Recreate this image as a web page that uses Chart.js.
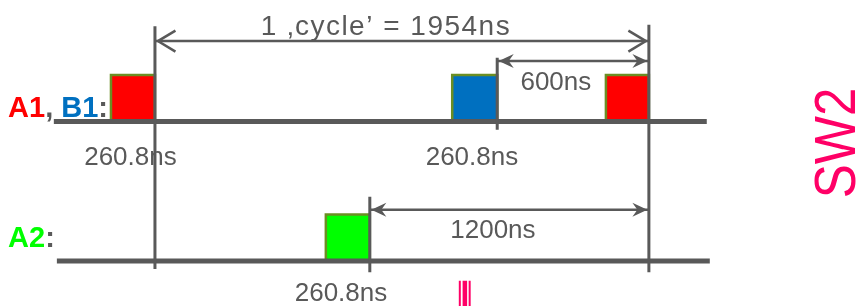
<!DOCTYPE html>
<html>
<head>
<meta charset="utf-8">
<script src="https://cdn.jsdelivr.net/npm/chart.js@4/dist/chart.umd.min.js"></script>
<style>
  html, body { margin: 0; padding: 0; background: #fff; }
  #wrap { width: 864px; height: 306px; }
</style>
</head>
<body>
<div id="wrap"><canvas id="timing" width="864" height="306"></canvas></div>
<script>
// x = time in ns (the original sketch is not to scale), y = signal level
// A2 lane sits at level 0, the A1/B1 lane at level 3, a pulse is 1 high
const laneLevels = [3, 0];
const laneStart = [-400, -388];
const laneEnd = [2183, 2195];

const pulseNames = ['A1', 'B1', 'A1', 'A2'];
const pulseStart = [-174, 1176, 1784, 676];
const pulseEnd = [0, 1354, 1954, 850];
const pulseLane = [3, 3, 3, 0];
const pulseHigh = 1;

const markerTimes = [0, 1354, 1954, 850];
const markerTop = [5.05, 4.37, 5.08, 1.38];
const markerBottom = [-0.17, 2.82, -0.24, -0.24];

const spanFrom = [0, 1354, 850];
const spanTo = [1954, 1954, 1954];
const spanLevel = [4.73, 4.30, 1.10];
const spanLabels = ['1 \u201Acycle\u2019 = 1954ns', '600ns', '1200ns'];
const spanLabelTime = [914, 1586, 1337];
const spanLabelLevel = [4.86, 3.68, 0.495];

const widthLabels = ['260.8ns', '260.8ns', '260.8ns'];
const widthLabelTime = [-97, 1254, 736];
const widthLabelLevel = [2.065, 2.065, -0.86];

const laneLabelTime = [-581, -581];
const laneLabelLevel = [3.10, 0.30];

const sideLabel = 'SW2';
const sideLabelTime = 2706;
const sideLabelLevel = 2.54;

const tickMarkTimes = [1206, 1226, 1245];
const tickMarkTop = -0.424;
const tickMarkBottom = -1;

const GRAY = '#595959';
const PINK = '#FF0066';
const OLIVE = '#6B8E23';
const signalColors = { A1: '#FF0000', B1: '#0070C0', A2: '#00FF00' };
const FONT = '"Liberation Sans", Arial, sans-serif';

const datasets = [];

// baselines
laneLevels.forEach((lv, i) => {
    datasets.push({
        data: [{ x: laneStart[i], y: lv }, { x: laneEnd[i], y: lv }],
        borderColor: GRAY, borderWidth: 5, order: 2
    });
});

// pulses
pulseNames.forEach((name, i) => {
    const b = pulseLane[i], h = b + pulseHigh;
    datasets.push({
        data: [
            { x: pulseStart[i], y: b }, { x: pulseStart[i], y: h },
            { x: pulseEnd[i], y: h }, { x: pulseEnd[i], y: b }
        ],
        borderColor: OLIVE, borderWidth: 2.5,
        backgroundColor: signalColors[name],
        fill: { value: b }, order: 3
    });
});

// edge markers
markerTimes.forEach((t, i) => {
    datasets.push({
        data: [{ x: t, y: markerTop[i] }, { x: t, y: markerBottom[i] }],
        borderColor: GRAY, borderWidth: 3, order: 1
    });
});

// arrow shafts
spanFrom.forEach((t, i) => {
    datasets.push({
        data: [{ x: t, y: spanLevel[i] }, { x: spanTo[i], y: spanLevel[i] }],
        borderColor: GRAY, borderWidth: 2.5, order: 1
    });
});

// small pink marks at the bottom
tickMarkTimes.forEach((t, i) => {
    datasets.push({
        data: [{ x: t, y: tickMarkTop }, { x: t, y: tickMarkBottom }],
        borderColor: PINK, borderWidth: i === 1 ? 4.5 : 2, order: 1
    });
});

function chevron(ctx, x, y, dir) {
    ctx.beginPath();
    ctx.moveTo(x + dir * 19, y - 10.5);
    ctx.lineTo(x + dir * 1.5, y);
    ctx.lineTo(x + dir * 19, y + 10.5);
    ctx.strokeStyle = GRAY;
    ctx.lineWidth = 2.5;
    ctx.stroke();
}

function stealth(ctx, x, y, dir) {
    ctx.beginPath();
    ctx.moveTo(x, y);
    ctx.lineTo(x + dir * 15, y - 7);
    ctx.lineTo(x + dir * 10, y);
    ctx.lineTo(x + dir * 15, y + 7);
    ctx.closePath();
    ctx.fillStyle = GRAY;
    ctx.fill();
}

function drawParts(ctx, parts, x, y) {
    parts.forEach(([txt, color]) => {
        ctx.fillStyle = color;
        ctx.fillText(txt, x, y);
        x += ctx.measureText(txt).width;
    });
}

const annotate = {
    id: 'annotate',
    afterDatasetsDraw(chart) {
        const { ctx, scales: { x, y } } = chart;
        ctx.save();

        // arrow heads
        spanFrom.forEach((t0, i) => {
            const yy = y.getPixelForValue(spanLevel[i]);
            const x0 = x.getPixelForValue(t0) + 1.5;
            const x1 = x.getPixelForValue(spanTo[i]) - 1.5;
            if (i === 0) {
                chevron(ctx, x0, yy, 1);
                chevron(ctx, x1, yy, -1);
            } else {
                stealth(ctx, x0, yy, 1);
                stealth(ctx, x1, yy, -1);
            }
        });

        ctx.textBaseline = 'alphabetic';
        ctx.textAlign = 'center';
        ctx.fillStyle = GRAY;

        // span labels
        spanLabels.forEach((txt, i) => {
            if (i === 0) {
                ctx.font = '28px ' + FONT;
                ctx.letterSpacing = '1.5px';
            } else {
                ctx.font = '26px ' + FONT;
                ctx.letterSpacing = '0px';
            }
            ctx.fillText(txt, x.getPixelForValue(spanLabelTime[i]), y.getPixelForValue(spanLabelLevel[i]));
        });
        ctx.letterSpacing = '0px';

        // pulse width labels
        ctx.font = '26px ' + FONT;
        widthLabels.forEach((txt, i) => {
            ctx.fillText(txt, x.getPixelForValue(widthLabelTime[i]), y.getPixelForValue(widthLabelLevel[i]));
        });

        // lane labels
        ctx.textAlign = 'left';
        ctx.font = 'bold 29px ' + FONT;
        drawParts(ctx, [['A1', signalColors.A1], [', ', GRAY], ['B1', signalColors.B1], [':', GRAY]],
            x.getPixelForValue(laneLabelTime[0]), y.getPixelForValue(laneLabelLevel[0]));
        drawParts(ctx, [['A2', signalColors.A2], [':', GRAY]],
            x.getPixelForValue(laneLabelTime[1]), y.getPixelForValue(laneLabelLevel[1]));

        // SW2 sideways
        ctx.translate(x.getPixelForValue(sideLabelTime), y.getPixelForValue(sideLabelLevel));
        ctx.rotate(-Math.PI / 2);
        ctx.scale(0.88, 1);
        ctx.textAlign = 'center';
        ctx.textBaseline = 'middle';
        ctx.font = '58px ' + FONT;
        ctx.fillStyle = PINK;
        ctx.fillText(sideLabel, 0, 0);

        ctx.restore();
    }
};

new Chart(document.getElementById('timing'), {
    type: 'scatter',
    data: { datasets: datasets },
    options: {
        responsive: false,
        animation: false,
        devicePixelRatio: 1,
        showLine: true,
        layout: { padding: 0 },
        elements: {
            point: { radius: 0, hoverRadius: 0 },
            line: { tension: 0, borderCapStyle: 'butt', borderJoinStyle: 'miter' }
        },
        scales: {
            x: { type: 'linear', display: false, min: -613, max: 2805 },
            y: { type: 'linear', display: false, min: -0.968, max: 5.613 }
        },
        plugins: {
            legend: { display: false },
            tooltip: { enabled: false }
        }
    },
    plugins: [annotate]
});
</script>
</body>
</html>
